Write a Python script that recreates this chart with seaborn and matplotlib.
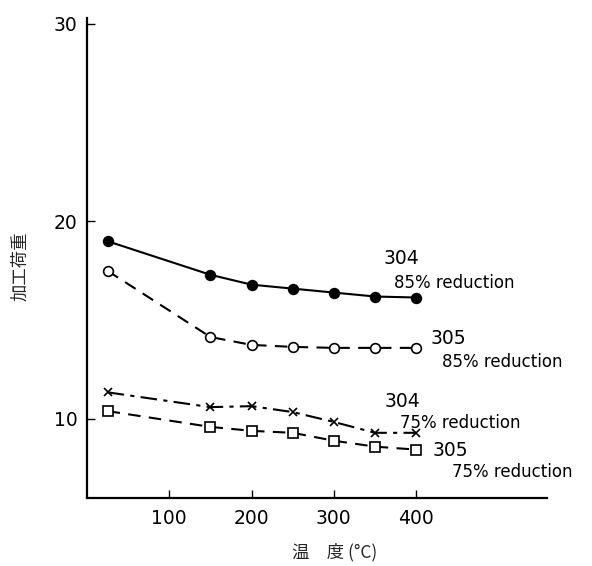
import matplotlib
matplotlib.use("Agg")
import matplotlib.pyplot as plt
import seaborn as sns
import pandas as pd

sns.set_theme(style="white")
plt.rcParams['font.family'] = ['DejaVu Sans', 'Noto Sans CJK JP']

temps = [25, 150, 200, 250, 300, 350, 400]
s304_85 = [19.0, 17.3, 16.8, 16.6, 16.4, 16.2, 16.15]
s305_85 = [17.5, 14.15, 13.75, 13.65, 13.6, 13.6, 13.6]
s304_75 = [11.35, 10.6, 10.65, 10.35, 9.85, 9.3, 9.3]
s305_75 = [10.4, 9.6, 9.4, 9.3, 8.9, 8.6, 8.45]

xticks = [100, 200, 300, 400]
yticks = [10, 20, 30]
xlabel = "温　度 (°C)"
ylabel = "加工荷重"

labels = [
    ("304", "85% reduction", 360, 18.1, 373, 16.9),
    ("305", "85% reduction", 417, 14.1, 431, 12.9),
    ("304", "75% reduction", 362, 10.9, 380, 9.8),
    ("305", "75% reduction", 420, 8.4, 443, 7.3),
]

fig = plt.figure(figsize=(5.92, 5.66), dpi=100)
ax = fig.add_axes([87/592, 68/566, (547-87)/592, (498-18)/566])

series = [
    (s304_85, 'o', 'black', '-'),
    (s305_85, 'o', 'white', (0, (6, 4))),
    (s304_75, 'x', 'black', (0, (8, 3, 2, 3))),
    (s305_75, 's', 'white', (0, (6, 4))),
]
for vals, mk, mfc, ls in series:
    df = pd.DataFrame({"t": temps, "v": vals})
    sns.lineplot(data=df, x="t", y="v", ax=ax, color='black', marker=mk,
                 markersize=7 if mk != 'x' else 6, markerfacecolor=mfc,
                 markeredgecolor='black', markeredgewidth=1.2,
                 linestyle=ls, linewidth=1.5)

for num, red, x1, y1, x2, y2 in labels:
    ax.text(x1, y1, num, fontsize=13.5, ha='left', va='center', color='black')
    ax.text(x2, y2, red, fontsize=12, ha='left', va='center', color='black')

ax.set_xlim(0, 559)
ax.set_ylim(6, 30.3)
ax.set_xticks(xticks)
ax.set_yticks(yticks)
ax.set_xticklabels([str(v) for v in xticks])
ax.set_yticklabels([str(v) for v in yticks])
ax.tick_params(axis='both', direction='in', length=6, width=1, colors='black',
               labelsize=13.5, left=True, bottom=True)
ax.tick_params(axis='x', pad=8)
ax.tick_params(axis='y', pad=7)
for s in ['top', 'right']:
    ax.spines[s].set_visible(False)
for s in ['left', 'bottom']:
    ax.spines[s].set_color('black')
    ax.spines[s].set_linewidth(1.6)
ax.set_xlabel("")
ax.set_ylabel("")

fig.text(335/592, 1 - 552/566, xlabel, ha='center', va='center', fontsize=12.5,
         family=['Noto Sans CJK JP', 'DejaVu Sans'])
fig.text(20/592, 1 - 266/566, ylabel, ha='center', va='center', fontsize=12.5,
         rotation=90, family=['Noto Sans CJK JP', 'DejaVu Sans'])

fig.savefig("out.png", dpi=100, facecolor='white')
